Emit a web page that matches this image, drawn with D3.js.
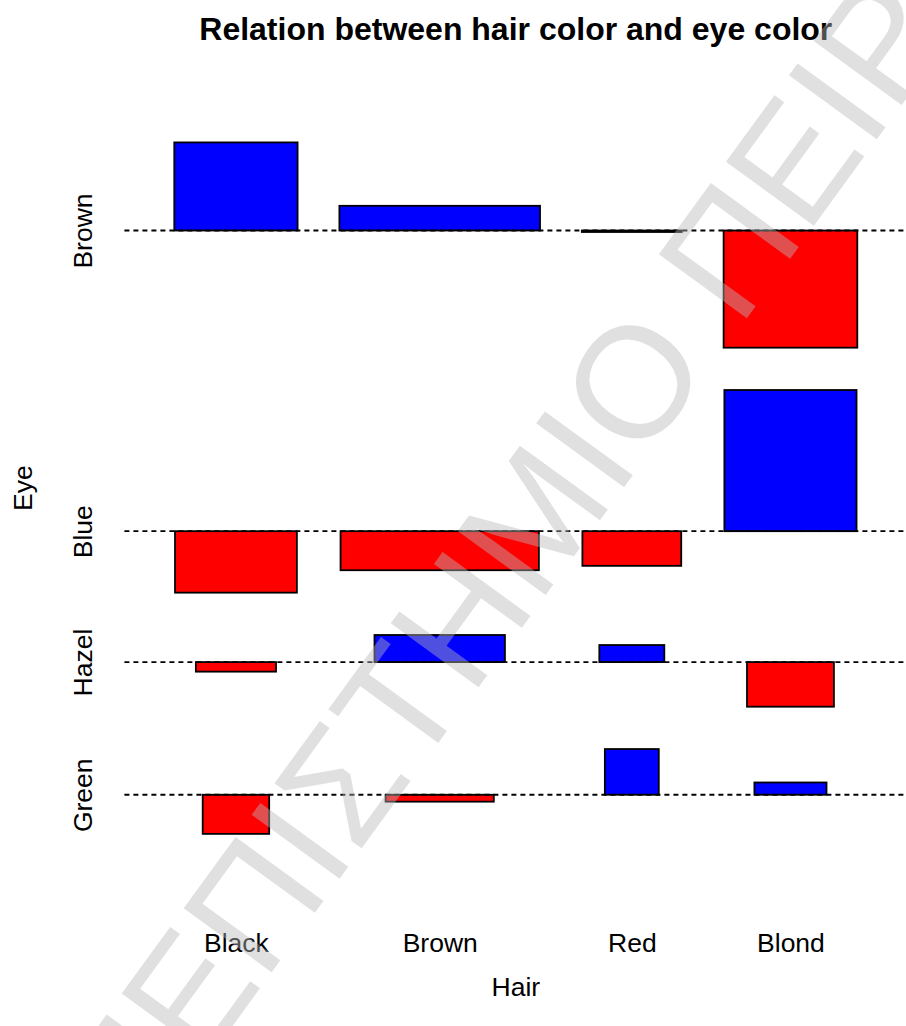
<!DOCTYPE html>
<html>
<head>
<meta charset="utf-8">
<script src="https://cdn.jsdelivr.net/npm/d3@7"></script>
<style>
  html, body { margin: 0; padding: 0; background: #fff; }
  svg { display: block; font-family: "Liberation Sans", Arial, Helvetica, sans-serif; }
</style>
</head>
<body>
<svg id="chart" width="906" height="1026"></svg>
<script>
// Hair / eye colour counts (both sexes combined)
const hairLevels = ["Black", "Brown", "Red", "Blond"];
const eyeLevels = ["Brown", "Blue", "Hazel", "Green"];
const countsBlack = [68, 20, 15, 5];
const countsBrown = [119, 84, 54, 29];
const countsRed = [26, 17, 14, 14];
const countsBlond = [7, 94, 10, 16];

const title = "Relation between hair color and eye color";
const xLabel = "Hair";
const yLabel = "Eye";
const posColor = "#0000ff";
const negColor = "#ff0000";

const counts = [countsBlack, countsBrown, countsRed, countsBlond];

// Association plot geometry: width ~ sqrt(expected), height ~ Pearson residual
const total = d3.sum(counts.flat());
const rowSums = counts.map(r => d3.sum(r));
const colSums = eyeLevels.map((_, j) => d3.sum(counts, r => r[j]));
const cols = d3.range(eyeLevels.length).reverse(); // stack eyes bottom-up: Green ... Brown
const exp = counts.map((r, i) => cols.map(j => rowSums[i] * colSums[j] / total));
const resid = counts.map((r, i) => cols.map((j, k) => (r[j] - exp[i][k]) / Math.sqrt(exp[i][k])));
const sqrtE = exp.map(r => r.map(Math.sqrt));

const space = 0.3;
const xw = sqrtE.map(r => d3.max(r));
const yh = cols.map((_, k) => d3.max(resid, r => r[k]) - d3.min(resid, r => r[k]));
const xDelta = d3.mean(xw) * space;
const yDelta = d3.mean(yh) * space;
const xMax = d3.sum(xw) + hairLevels.length * xDelta;
const yMax = d3.sum(yh) + eyeLevels.length * yDelta;

const xr = d3.cumsum(xw.map(w => w + xDelta));
const xm = xr.map((v, i) => ((i === 0 ? 0 : xr[i - 1]) + v) / 2);
const yu = d3.cumsum(yh.map(h => h + yDelta));
const ym = yu.map((v, k) => v - d3.max(resid, r => Math.max(r[k], 0)) - yDelta / 2);

// Plot region
const plot = { left: 124.4, right: 907.2, top: 91.9, bottom: 884.4 };
const x = d3.scaleLinear().domain([-0.04 * xMax, 1.04 * xMax]).range([plot.left, plot.right]);
const y = d3.scaleLinear().domain([-0.04 * yMax, 1.04 * yMax]).range([plot.bottom, plot.top]);

const svg = d3.select("#chart");
svg.append("rect").attr("width", 906).attr("height", 1026).attr("fill", "#fff");

// Bars
const cells = [];
hairLevels.forEach((h, i) => cols.forEach((j, k) => {
  cells.push({ hair: h, eye: eyeLevels[j], cx: xm[i], base: ym[k], w: sqrtE[i][k], d: resid[i][k] });
}));

svg.append("g").selectAll("rect")
  .data(cells)
  .join("rect")
  .attr("x", c => x(c.cx - c.w / 2))
  .attr("width", c => x(c.cx + c.w / 2) - x(c.cx - c.w / 2))
  .attr("y", c => y(Math.max(c.base, c.base + c.d)))
  .attr("height", c => Math.abs(y(c.base + c.d) - y(c.base)))
  .attr("fill", c => c.d < 0 ? negColor : posColor)
  .attr("stroke", "#000")
  .attr("stroke-width", 1.8);

// Reference lines
svg.append("g").selectAll("line")
  .data(ym)
  .join("line")
  .attr("x1", plot.left).attr("x2", plot.right)
  .attr("y1", v => y(v)).attr("y2", v => y(v))
  .attr("stroke", "#000")
  .attr("stroke-width", 1.8)
  .attr("stroke-dasharray", "5,4");

// Category labels (no axis line or ticks)
const xAxis = d3.axisBottom(x).tickValues(xm).tickFormat((_, i) => hairLevels[i]).tickSize(0);
const gx = svg.append("g").attr("transform", `translate(0,${plot.bottom})`).call(xAxis);
gx.select(".domain").remove();
gx.selectAll("text")
  .attr("font-family", "Liberation Sans, Arial, sans-serif")
  .attr("font-size", 26.5).attr("fill", "#000")
  .attr("dy", null).attr("y", 952 - plot.bottom);

const eyeByPos = cols.map(j => eyeLevels[j]);
const yAxis = d3.axisLeft(y).tickValues(ym).tickFormat((_, k) => eyeByPos[k]).tickSize(0);
const gy = svg.append("g").attr("transform", `translate(${plot.left},0)`).call(yAxis);
gy.select(".domain").remove();
gy.selectAll(".tick text")
  .attr("font-family", "Liberation Sans, Arial, sans-serif")
  .attr("font-size", 26.5).attr("fill", "#000")
  .attr("x", null).attr("dy", null)
  .attr("text-anchor", "middle")
  .attr("transform", `translate(${92 - plot.left},0) rotate(-90)`);

// Titles
svg.append("text")
  .attr("x", (plot.left + plot.right) / 2).attr("y", 40)
  .attr("text-anchor", "middle")
  .attr("font-size", 32).attr("font-weight", "bold")
  .text(title);

svg.append("text")
  .attr("x", (plot.left + plot.right) / 2).attr("y", 996)
  .attr("text-anchor", "middle")
  .attr("font-size", 26.5)
  .text(xLabel);

svg.append("text")
  .attr("transform", `translate(32,${(plot.top + plot.bottom) / 2}) rotate(-90)`)
  .attr("text-anchor", "middle")
  .attr("font-size", 26.5)
  .text(yLabel);

// Translucent diagonal watermark
const wm = svg.append("g").attr("transform", "translate(628,378) rotate(-54)");
const wmText = wm.append("text")
  .attr("font-size", 158)
  .attr("fill", "rgb(184,184,184)")
  .attr("fill-opacity", 0.435)
  .text("ΠΑΝΕΠΙΣΤΗΜΙΟ ΠΕΙΡΑΙΩΣ");
const ext = wmText.node().getExtentOfChar(11);
wmText.attr("x", -(ext.x + ext.width / 2)).attr("y", -(ext.y + ext.height / 2) + 6);
</script>
</body>
</html>
